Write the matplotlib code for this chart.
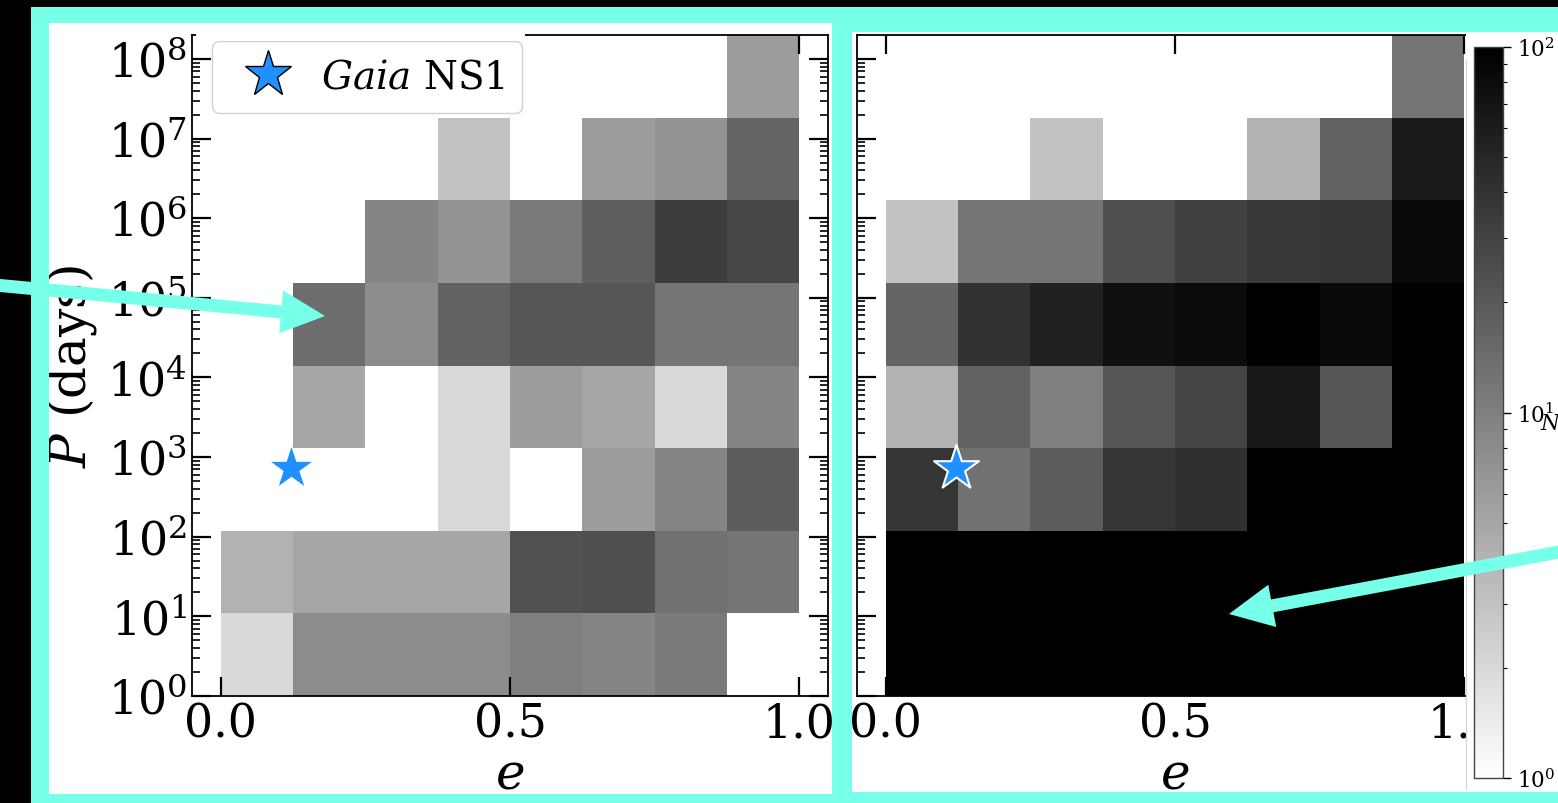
import numpy as np
import matplotlib
matplotlib.use("Agg")
import matplotlib.pyplot as plt
from matplotlib.colors import LogNorm
from matplotlib.lines import Line2D
from matplotlib.patches import Rectangle, FancyArrow
from matplotlib.ticker import LogLocator, NullFormatter
from matplotlib.transforms import Affine2D

W, H, DPI = 1558, 804, 100

plt.rcParams["font.family"] = "DejaVu Serif"
plt.rcParams["mathtext.fontset"] = "dejavuserif"

# bin edges: eccentricity and log10 of orbital period (days)
e_edges = np.linspace(0.0, 1.0, 9)
logP_edges = np.linspace(0.0, 8.3, 9)

# number of systems per bin, rows from the shortest-period bin upward
counts_left = [
    [2, 8, 8, 8, 10, 9, 11, 0],
    [4, 5, 5, 5, 23, 24, 13, 12],
    [0, 0, 0, 2, 0, 6, 9, 19],
    [0, 5, 0, 2, 6, 5, 2, 9],
    [0, 14, 8, 17, 21, 21, 12, 12],
    [0, 0, 9, 7, 11, 18, 33, 28],
    [0, 0, 0, 3, 0, 6, 7, 16],
    [0, 0, 0, 0, 0, 0, 0, 6],
]
counts_right = [
    [310, 420, 390, 360, 350, 330, 300, 260],
    [230, 270, 250, 240, 230, 220, 200, 190],
    [38, 13, 19, 38, 42, 120, 130, 150],
    [4, 17, 10, 21, 29, 66, 21, 110],
    [16, 40, 55, 74, 82, 105, 84, 140],
    [3, 12, 12, 24, 31, 36, 38, 84],
    [0, 0, 3, 0, 0, 4, 17, 61],
    [0, 0, 0, 0, 0, 0, 0, 12],
]

# Gaia NS1
ns1_e = [0.122]
ns1_P = [731.0]

x_ticks = [0.0, 0.5, 1.0]
x_ticklabels = ["0.0", "0.5", "1.0"]
cbar_ticks = [1, 10, 100]

CYAN = "#76ffe9"

fig = plt.figure(figsize=(W / DPI, H / DPI), dpi=DPI, facecolor="black")

# pixel coordinates measured from the top-left corner of the figure
T = Affine2D().scale(1.0 / W, -1.0 / H).translate(0, 1) + fig.transFigure


def block(x0, y0, x1, y1, color, z):
    fig.add_artist(Rectangle((x0, y0), x1 - x0, y1 - y0, transform=T,
                             facecolor=color, edgecolor="none", zorder=z))


# white panels behind the two plots
block(49, 24, 832, 795, "white", -1)
block(852, 33, 1558, 793, "white", -1)

norm = LogNorm(vmin=1, vmax=100)
P_edges = 10.0 ** logP_edges

ax1 = fig.add_axes([192 / W, 1 - 697 / H, 636 / W, 661 / H])
ax2 = fig.add_axes([857 / W, 1 - 697 / H, 636 / W, 661 / H])

meshes = []
for ax, counts in ((ax1, counts_left), (ax2, counts_right)):
    c = np.ma.masked_less_equal(np.array(counts, dtype=float), 0)
    m = ax.pcolormesh(e_edges, P_edges, c, cmap="gray_r", norm=norm,
                      edgecolors="none", antialiased=False, zorder=1)
    meshes.append(m)
    ax.set_yscale("log")
    ax.set_xlim(-0.05, 1.05)
    ax.set_ylim(1, 10 ** 8.3)
    ax.set_xticks(x_ticks)
    ax.set_xticklabels(x_ticklabels)
    ax.set_yticks(10.0 ** np.arange(0, 9))
    ax.yaxis.set_minor_locator(LogLocator(base=10, subs=np.arange(2, 10), numticks=100))
    ax.yaxis.set_minor_formatter(NullFormatter())
    ax.tick_params(which="both", direction="in", top=True, right=True)
    ax.tick_params(which="major", length=14, width=1.6, labelsize=33)
    ax.tick_params(which="minor", length=6, width=1.2)
    for s in ax.spines.values():
        s.set_linewidth(1.3)
    ax.set_xlabel("$e$", fontsize=36, labelpad=2)
    ax.set_facecolor("white")

ax1.set_ylabel("$P$ (days)", fontsize=36, labelpad=6)
ax2.tick_params(labelleft=False)

ax1.scatter(ns1_e, ns1_P, marker="*", s=31 ** 2, color="dodgerblue",
            linewidths=0, zorder=3)
ax2.scatter(ns1_e, ns1_P, marker="*", s=34 ** 2, color="dodgerblue",
            edgecolors="white", linewidths=1.5, zorder=3)

star_handle = Line2D([], [], ls="none", marker="*", markersize=35,
                     markerfacecolor="dodgerblue", markeredgecolor="black",
                     markeredgewidth=1.0)
ax1.legend([star_handle], [r"$\mathit{Gaia}$ NS1"], loc="upper left",
           bbox_to_anchor=(20 / 636, 1 - 6 / 661), borderaxespad=0,
           fontsize=28, handletextpad=0.35, borderpad=0.45, framealpha=1,
           edgecolor="0.82")

# cyan frames around the panels
block(31, 8, 852, 24, CYAN, 2)
block(852, 8, 1558, 33, CYAN, 2)
block(31, 8, 49, 804, CYAN, 2)
block(832, 8, 852, 804, CYAN, 2)
block(31, 795, 852, 804, CYAN, 2)
block(852, 793, 1558, 804, CYAN, 2)

# white strips over the panel edges
block(196, 29, 525, 42, "white", 2)
block(1466, 33, 1558, 793, "white", 2)
fig.add_artist(Line2D([1466, 1466], [60, 790], transform=T, color="#d4d4d4",
                      lw=0.8, zorder=2.1))

# colour bar
cax = fig.add_axes([1474 / W, 1 - 779 / H, 29 / W, 731 / H])
cax.set_zorder(3)
cb = fig.colorbar(meshes[1], cax=cax, ticks=cbar_ticks)
cb.outline.set_edgecolor("#444444")
cb.outline.set_linewidth(1.0)
cax.tick_params(which="major", length=6, width=1.0, labelsize=15.5, pad=4)
cax.tick_params(which="minor", length=3, width=0.8)
cb.set_label("$N$", rotation=0, fontsize=15.5, ha="left", va="center")
cax.yaxis.set_label_coords((1540 - 1474) / 29, (779 - 424) / 731)

# arrows
fig.add_artist(FancyArrow(-20, 284.6, 345, 32.4, width=13, head_width=43,
                          head_length=44, length_includes_head=True,
                          transform=T, color=CYAN, lw=0, zorder=5))
fig.add_artist(FancyArrow(1580, 549, -351, 66, width=13, head_width=43,
                          head_length=44, length_includes_head=True,
                          transform=T, color=CYAN, lw=0, zorder=5))

fig.savefig("out.png", dpi=DPI, facecolor="black")
